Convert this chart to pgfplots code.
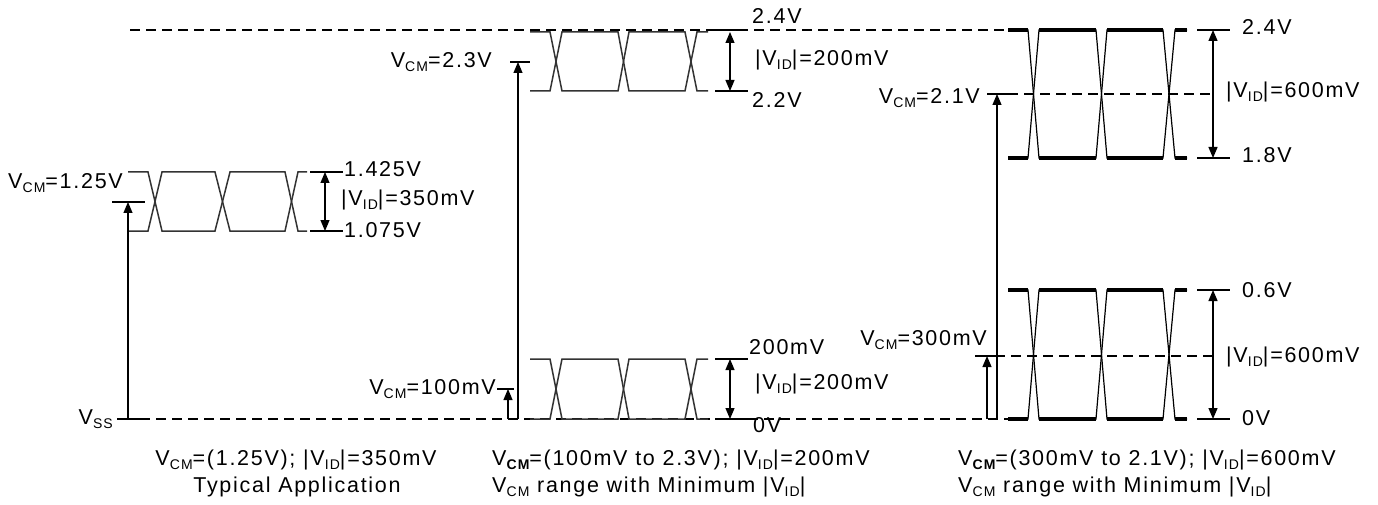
\documentclass[border=0pt]{standalone}
\usepackage{fontspec}
\setmainfont{Liberation Sans}[LetterSpace=8]
\usepackage{pgfplots}
\pgfplotsset{compat=1.18}
\usetikzlibrary{arrows.meta}

\newcommand{\sub}[1]{\raisebox{-0.35ex}{\fontsize{14bp}{14bp}\selectfont #1}}
\newcommand{\VCM}{V\sub{CM}}
\newcommand{\VCMb}{V\sub{\bfseries CM}}
\newcommand{\VID}{|V\sub{ID}|}

\tikzset{
  wave/.style={black!80, line width=1.5bp},
  flat/.style={black, line width=3.6bp, line cap=butt},
  thin/.style={black, line width=1.2bp},
  lvl/.style={black, line width=1.5bp},
  dsh/.style={black, line width=1.9bp, dash pattern=on 10bp off 6bp},
  up/.style={black, line width=1.2bp, -{Triangle[length=11bp,width=9bp]}},
  both/.style={black, line width=1.2bp, {Triangle[length=11bp,width=9bp]}-{Triangle[length=11bp,width=9bp]}},
}

\begin{document}
\begin{tikzpicture}[font=\fontsize{21.5bp}{25bp}\selectfont]
\begin{axis}[
    hide axis,
    scale only axis,
    width=1378bp, height=505bp,
    xmin=0, xmax=1378, ymin=0, ymax=505,
    y dir=reverse,
    clip=false,
    unbounded coords=jump,
    every axis plot/.append style={no marks},
  ]
  % page frame
  \addplot[draw=none] coordinates {(0,0) (1378,505)};

  % reference levels (dashed)
  \addplot[dsh] coordinates {(130,30) (1008,30)};
  \addplot[dsh] coordinates {(140,419) (1008,419)};
  \addplot[dsh] coordinates {(1008,94) (1212,94)};
  \addplot[dsh] coordinates {(995,356) (1212,356)};

  % --- typical application ---
  \addplot[wave] coordinates {(128,172) (148,172) (162,231) (215,231) (230,172) (285,172) (298,231) (307,231)};
  \addplot[wave] coordinates {(128,231) (148,231) (162,172) (215,172) (230,231) (285,231) (298,172) (307,172)};
  \addplot[lvl] coordinates {(310,172) (343,172) (343,nan) (310,231) (343,231)};
  \addplot[lvl] coordinates {(112,202) (145,202) (145,nan) (117,419) (140,419)};
  \addplot[up] coordinates {(128,419) (128,202)};
  \addplot[both] coordinates {(325,172) (325,231)};

  % --- minimum |VID|, high ---
  \addplot[wave] coordinates {(530,32) (550,32) (562,91) (618,91) (629,32) (685,32) (697,91) (708,91)};
  \addplot[wave] coordinates {(530,91) (550,91) (562,32) (618,32) (629,91) (685,91) (697,32) (708,32)};
  \addplot[lvl] coordinates {(715,30) (748,30) (748,nan) (715,91) (748,91)};
  \addplot[lvl] coordinates {(510,62) (530,62)};
  \addplot[up] coordinates {(518,419) (518,62)};
  \addplot[both] coordinates {(730,32) (730,91)};

  % --- minimum |VID|, low ---
  \addplot[wave] coordinates {(530,359) (550,359) (562,419) (618,419) (629,359) (685,359) (697,419) (708,419)};
  \addplot[wave] coordinates {(530,419) (550,419) (562,359) (618,359) (629,419) (685,419) (697,359) (708,359)};
  \addplot[lvl] coordinates {(715,359) (748,359) (748,nan) (715,419) (748,419)};
  \addplot[lvl] coordinates {(497,389) (514,389)};
  \addplot[up] coordinates {(508,419) (508,389)};
  \addplot[both] coordinates {(730,359) (730,419)};

  % --- 600 mV, high ---
  \addplot[thin] coordinates {(1008,30) (1028,30) (1039,158) (1096,158) (1107,30) (1163,30) (1175,158) (1187,158)};
  \addplot[thin] coordinates {(1008,158) (1028,158) (1039,30) (1096,30) (1107,158) (1163,158) (1175,30) (1187,30)};
  \addplot[flat] coordinates {(1008,30) (1028,30) (1028,nan) (1039,30) (1096,30) (1096,nan) (1107,30) (1163,30) (1163,nan) (1175,30) (1187,30)};
  \addplot[flat] coordinates {(1008,158) (1028,158) (1028,nan) (1039,158) (1096,158) (1096,nan) (1107,158) (1163,158) (1163,nan) (1175,158) (1187,158)};
  \addplot[lvl] coordinates {(1197,30) (1230,30) (1230,nan) (1197,158) (1230,158)};
  \addplot[lvl] coordinates {(987,94) (1008,94)};
  \addplot[up] coordinates {(997,419) (997,94)};
  \addplot[both] coordinates {(1213,30) (1213,158)};

  % --- 600 mV, low ---
  \addplot[thin] coordinates {(1008,290) (1028,290) (1039,419) (1096,419) (1107,290) (1163,290) (1175,419) (1187,419)};
  \addplot[thin] coordinates {(1008,419) (1028,419) (1039,290) (1096,290) (1107,419) (1163,419) (1175,290) (1187,290)};
  \addplot[flat] coordinates {(1008,290) (1028,290) (1028,nan) (1039,290) (1096,290) (1096,nan) (1107,290) (1163,290) (1163,nan) (1175,290) (1187,290)};
  \addplot[flat] coordinates {(1008,419) (1028,419) (1028,nan) (1039,419) (1096,419) (1096,nan) (1107,419) (1163,419) (1163,nan) (1175,419) (1187,419)};
  \addplot[lvl] coordinates {(1197,290) (1230,290) (1230,nan) (1197,419) (1230,419)};
  \addplot[lvl] coordinates {(975,356) (995,356)};
  \addplot[up] coordinates {(987,419) (987,356)};
  \addplot[both] coordinates {(1213,290) (1213,419)};

  % labels
  \node[anchor=mid east, inner sep=0] at (axis cs:123,186) {\VCM=1.25V};
  \node[anchor=mid west, inner sep=0] at (axis cs:344,174) {1.425V};
  \node[anchor=mid west, inner sep=0] at (axis cs:341,203) {\VID=350mV};
  \node[anchor=mid west, inner sep=0] at (axis cs:344,235) {1.075V};
  \node[anchor=mid east, inner sep=0] at (axis cs:113,422) {V\sub{SS}};
  \node[anchor=mid] at (axis cs:296,463) {\VCM=(1.25V); \VID=350mV};
  \node[anchor=mid] at (axis cs:297,490) {Typical Application};

  \node[anchor=mid east, inner sep=0] at (axis cs:492,65) {\VCM=2.3V};
  \node[anchor=mid west, inner sep=0] at (axis cs:752,21) {2.4V};
  \node[anchor=mid west, inner sep=0] at (axis cs:755,63) {\VID=200mV};
  \node[anchor=mid west, inner sep=0] at (axis cs:752,105) {2.2V};
  \node[anchor=mid west, inner sep=0] at (axis cs:749,352) {200mV};
  \node[anchor=mid west, inner sep=0] at (axis cs:755,387) {\VID=200mV};
  \node[anchor=mid west, inner sep=0] at (axis cs:753,430) {0V};
  \node[anchor=mid east, inner sep=0] at (axis cs:496,392) {\VCM=100mV};
  \node[anchor=mid west, inner sep=0] at (axis cs:492,463) {\VCMb=(100mV to 2.3V); \VID=200mV};
  \node[anchor=mid west, inner sep=0] at (axis cs:492,490) {\VCM{} range with Minimum \VID};

  \node[anchor=mid east, inner sep=0] at (axis cs:980,101) {\VCM=2.1V};
  \node[anchor=mid west, inner sep=0] at (axis cs:1242,32) {2.4V};
  \node[anchor=mid west, inner sep=0] at (axis cs:1226,95) {\VID=600mV};
  \node[anchor=mid west, inner sep=0] at (axis cs:1242,160) {1.8V};
  \node[anchor=mid west, inner sep=0] at (axis cs:1242,295) {0.6V};
  \node[anchor=mid west, inner sep=0] at (axis cs:1226,360) {\VID=600mV};
  \node[anchor=mid west, inner sep=0] at (axis cs:1242,423) {0V};
  \node[anchor=mid east, inner sep=0] at (axis cs:987,343) {\VCM=300mV};
  \node[anchor=mid west, inner sep=0] at (axis cs:958,463) {\VCMb=(300mV to 2.1V); \VID=600mV};
  \node[anchor=mid west, inner sep=0] at (axis cs:958,490) {\VCM{} range with Minimum \VID};
\end{axis}
\end{tikzpicture}
\end{document}
